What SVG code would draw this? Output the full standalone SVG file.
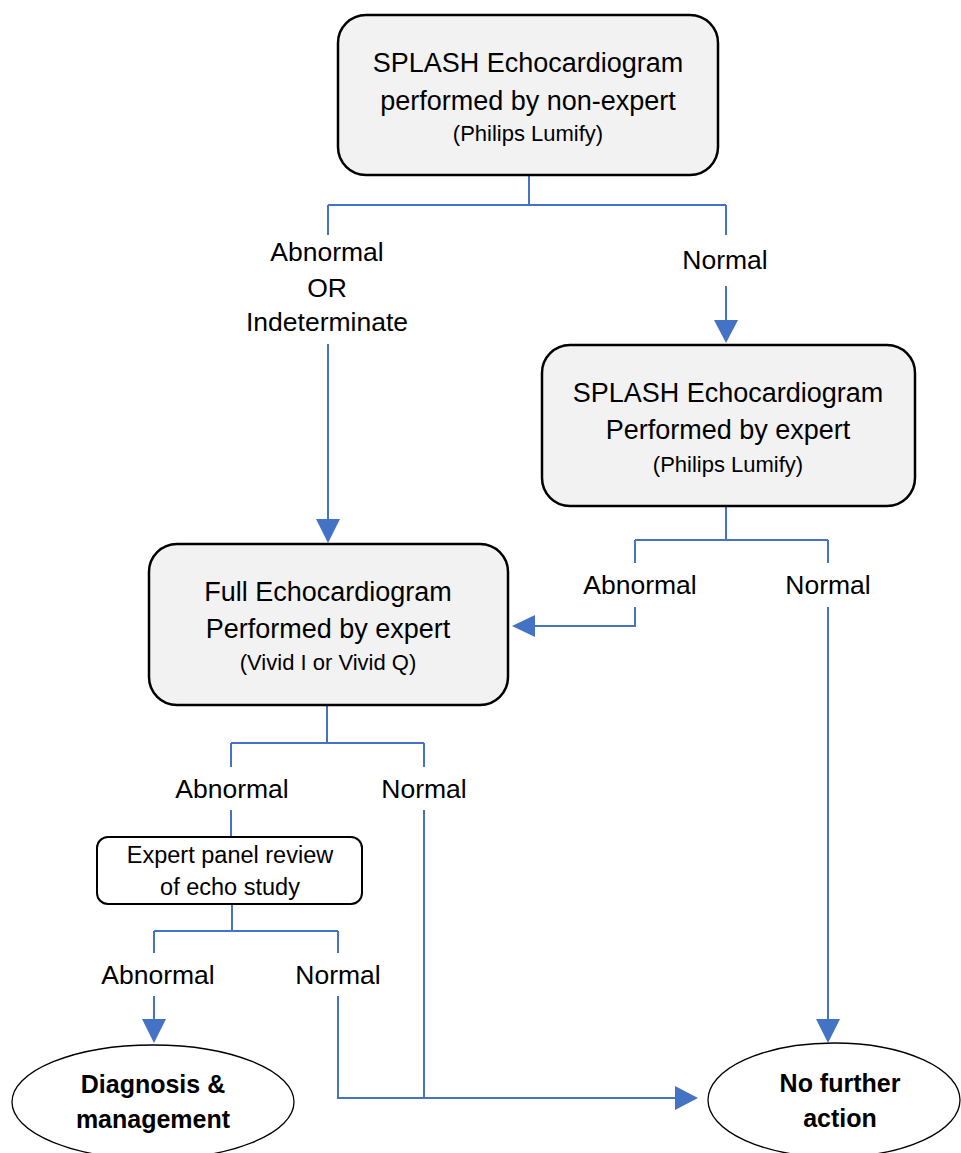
<svg xmlns="http://www.w3.org/2000/svg" width="961" height="1153" viewBox="0 0 961 1153">
<style>
text{font-family:"Liberation Sans",Arial,sans-serif;fill:#000;text-anchor:middle}
.t{font-size:27px}
.s{font-size:22px}
.l{font-size:26.5px}
.p{font-size:23.5px}
.b{font-size:25px;font-weight:bold}
.box{fill:#f2f2f2;stroke:#000;stroke-width:2.5}
.pbox{fill:#fff;stroke:#000;stroke-width:2}
.ell{fill:#fff;stroke:#000;stroke-width:1.3}
.c{fill:none;stroke:#4472c4;stroke-width:2}
.ah{fill:#4472c4}
</style>
<rect width="961" height="1153" fill="#fff"/>
<g id="connectors">
<path class="c" d="M529,175V205M328,205H726M328,205V235M726,205V235"/>
<path class="c" d="M726,286V322"/>
<polygon class="ah" points="714,320 738,320 726,343"/>
<path class="c" d="M328,344V521"/>
<polygon class="ah" points="316,519 340,519 328,543"/>
<path class="c" d="M726,506V540M635,540H828M635,540V563M828,540V563"/>
<path class="c" d="M635,607V626H533"/>
<polygon class="ah" points="535,615 535,637 512,626"/>
<path class="c" d="M828,607V1021"/>
<polygon class="ah" points="816,1019 840,1019 828,1043"/>
<path class="c" d="M327,705V743M231,743H424M231,743V767M424,743V767"/>
<path class="c" d="M231,810V837"/>
<path class="c" d="M424,810V1098"/>
<path class="c" d="M232,904V931M154,931H338M154,931V953M338,931V953"/>
<path class="c" d="M154,996V1021"/>
<polygon class="ah" points="142,1019 166,1019 154,1043"/>
<path class="c" d="M338,996V1098H677"/>
<polygon class="ah" points="675,1086 675,1110 698,1098"/>
</g>
<g id="labels">
<text class="l" x="327" y="261">Abnormal</text>
<text class="l" x="327" y="297">OR</text>
<text class="l" x="327" y="331">Indeterminate</text>
<text class="l" x="725" y="269">Normal</text>
<text class="l" x="640" y="594">Abnormal</text>
<text class="l" x="828" y="594">Normal</text>
<text class="l" x="232" y="798">Abnormal</text>
<text class="l" x="424" y="798">Normal</text>
<text class="l" x="158" y="984">Abnormal</text>
<text class="l" x="338" y="984">Normal</text>
</g>
<g id="node-splash-nonexpert">
<rect class="box" x="338" y="15" width="380" height="160" rx="28"/>
<text class="t" x="528" y="72">SPLASH Echocardiogram</text>
<text class="t" x="528" y="110">performed by non-expert</text>
<text class="s" x="528" y="141">(Philips Lumify)</text>
</g>
<g id="node-splash-expert">
<rect class="box" x="542" y="345" width="373" height="161" rx="28"/>
<text class="t" x="728" y="402">SPLASH Echocardiogram</text>
<text class="t" x="728" y="439">Performed by expert</text>
<text class="s" x="728" y="472">(Philips Lumify)</text>
</g>
<g id="node-full-echo">
<rect class="box" x="149" y="544" width="359" height="161" rx="28"/>
<text class="t" x="328" y="601">Full Echocardiogram</text>
<text class="t" x="328" y="638">Performed by expert</text>
<text class="s" x="328" y="670">(Vivid I or Vivid Q)</text>
</g>
<g id="node-expert-panel">
<rect class="pbox" x="97" y="837" width="265" height="67" rx="11"/>
<text class="p" x="230" y="863">Expert panel review</text>
<text class="p" x="230" y="895">of echo study</text>
</g>
<g id="node-diagnosis">
<ellipse class="ell" cx="153" cy="1102" rx="141" ry="57"/>
<text class="b" x="153" y="1093">Diagnosis &amp;</text>
<text class="b" x="153" y="1128">management</text>
</g>
<g id="node-no-further">
<ellipse class="ell" cx="834" cy="1100" rx="126" ry="57"/>
<text class="b" x="840" y="1092">No further</text>
<text class="b" x="840" y="1127">action</text>
</g>
</svg>
